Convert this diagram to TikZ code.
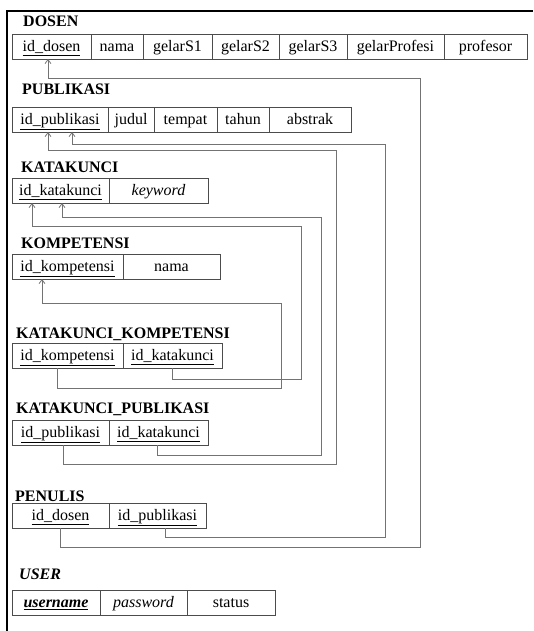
\documentclass[tikz,border=0pt]{standalone}
\usepackage{fontspec}
\setmainfont{Liberation Serif}
\usetikzlibrary{arrows.meta}
\tikzset{
  cell/.style={draw=black!70, line width=0.8pt, anchor=north west, minimum height=25pt,
    text height=13pt, text depth=3pt,
    inner sep=0pt, outer sep=0pt, font=\fontsize{16}{19}\selectfont},
  title/.style={anchor=base west, inner sep=0pt, font=\bfseries\fontsize{16}{19}\selectfont},
  fk/.style={draw=black!55, line width=0.8pt, -{Straight Barb[length=4pt,width=6pt]}}
}
\begin{document}
\begin{tikzpicture}[x=1pt,y=-1pt]
\useasboundingbox (0,0) rectangle (533,631);
\draw[line width=1.3pt] (533,11)--(7,11)--(7,631);

% DOSEN
\node[title] (tdosen) at (23,27) {DOSEN};
\node[cell, minimum width=79pt] (dosenid) at (12,34) {\underline{id\_dosen}};
\node[cell, minimum width=52pt] (dosennama) at (dosenid.north east) {nama};
\node[cell, minimum width=69pt] (dosens1) at (dosennama.north east) {gelarS1};
\node[cell, minimum width=67pt] (dosens2) at (dosens1.north east) {gelarS2};
\node[cell, minimum width=68pt] (dosens3) at (dosens2.north east) {gelarS3};
\node[cell, minimum width=97pt] (dosenprof) at (dosens3.north east) {gelarProfesi};
\node[cell, minimum width=83pt] (dosenguru) at (dosenprof.north east) {profesor};

% PUBLIKASI
\node[title] (tpub) at (22,95) {PUBLIKASI};
\node[cell, minimum width=96pt] (pubid) at (12,107) {\underline{id\_publikasi}};
\node[cell, minimum width=46pt] (pubjudul) at (pubid.north east) {judul};
\node[cell, minimum width=63pt] (pubtempat) at (pubjudul.north east) {tempat};
\node[cell, minimum width=52pt] (pubtahun) at (pubtempat.north east) {tahun};
\node[cell, minimum width=82pt] (pubabstrak) at (pubtahun.north east) {abstrak};

% KATAKUNCI
\node[title] (tkata) at (21,172) {KATAKUNCI};
\node[cell, minimum width=97pt] (kataid) at (12,178) {\underline{id\_katakunci}};
\node[cell, minimum width=99pt] (katakey) at (kataid.north east) {\textit{keyword}};

% KOMPETENSI
\node[title] (tkomp) at (21,248) {KOMPETENSI};
\node[cell, minimum width=111pt] (kompid) at (12,254) {\underline{id\_kompetensi}};
\node[cell, minimum width=97pt] (kompnama) at (kompid.north east) {nama};

% KATAKUNCI_KOMPETENSI
\node[title] (tkk) at (16,338) {KATAKUNCI\_KOMPETENSI};
\node[cell, minimum width=111pt] (kkkomp) at (12,343) {\underline{id\_kompetensi}};
\node[cell, minimum width=99pt] (kkkata) at (kkkomp.north east) {\underline{id\_katakunci}};

% KATAKUNCI_PUBLIKASI
\node[title] (tkp) at (16,413) {KATAKUNCI\_PUBLIKASI};
\node[cell, minimum width=97pt] (kppub) at (12,420) {\underline{id\_publikasi}};
\node[cell, minimum width=99pt] (kpkata) at (kppub.north east) {\underline{id\_katakunci}};

% PENULIS
\node[title] (tpenulis) at (15,501) {PENULIS};
\node[cell, minimum width=97pt] (pendosen) at (12,503) {\underline{id\_dosen}};
\node[cell, minimum width=97pt] (penpub) at (pendosen.north east) {\underline{id\_publikasi}};

% USER
\node[title, font=\bfseries\itshape\fontsize{16}{19}\selectfont] (tuser) at (19,579) {USER};
\node[cell, minimum width=88pt] (username) at (12,590) {\underline{\textbf{\textit{username}}}};
\node[cell, minimum width=87pt] (userpass) at (username.north east) {\textit{password}};
\node[cell, minimum width=88pt] (userstatus) at (userpass.north east) {status};

% relasi
\coordinate (b1) at (420,547); \coordinate (t1) at (420,78);
\coordinate (b2) at (385,537); \coordinate (t2) at (385,144);
\coordinate (b3) at (336,464); \coordinate (t3) at (336,150);
\coordinate (b4) at (321,455); \coordinate (t4) at (321,217);
\coordinate (b5) at (301,379); \coordinate (t5) at (301,226);
\coordinate (b6) at (281,388); \coordinate (t6) at (281,303);
\draw[fk] (pendosen.south) |- (b1) -- (t1) -| ([xshift=-3.5pt]dosenid.south);
\draw[fk] ([xshift=8pt]penpub.south) |- (b2) -- (t2) -| ([xshift=12pt]pubid.south);
\draw[fk] ([xshift=2.5pt]kppub.south) |- (b3) -- (t3) -| ([xshift=-12pt]pubid.south);
\draw[fk] ([xshift=-1.5pt]kpkata.south) |- (b4) -- (t4) -| ([xshift=1.5pt]kataid.south);
\draw[fk] (kkkata.south) |- (b5) -- (t5) -| ([xshift=-28.5pt]kataid.south);
\draw[fk] ([xshift=-10.5pt]kkkomp.south) |- (b6) -- (t6) -| ([xshift=-25.5pt]kompid.south);
\end{tikzpicture}
\end{document}
